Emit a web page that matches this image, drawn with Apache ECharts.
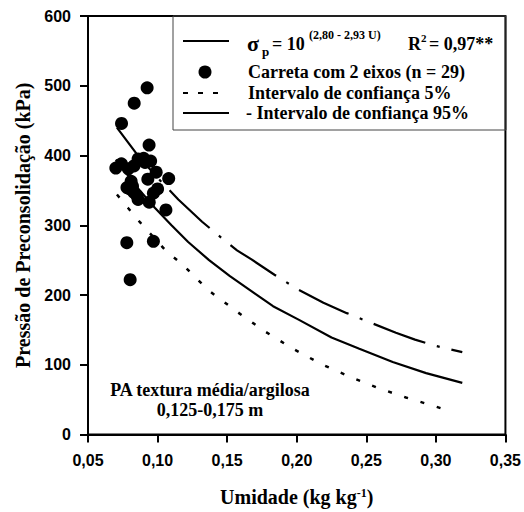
<!DOCTYPE html>
<html>
<head>
<meta charset="utf-8">
<script src="https://cdn.jsdelivr.net/npm/echarts@6/dist/echarts.min.js"></script>
<style>html,body{margin:0;padding:0;background:#fff;}#chart{width:524px;height:512px;}</style>
</head>
<body>
<div id="chart"></div>
<script>
// ---- data ----
const xTicks = [0.05, 0.10, 0.15, 0.20, 0.25, 0.30, 0.35];
const yTicks = [0, 100, 200, 300, 400, 500, 600];

// Carreta com 2 eixos (n = 29): umidade (kg/kg) and pressure (kPa)
const pointsU = [0.0925, 0.0832, 0.0741, 0.0939, 0.0779, 0.0970, 0.0803,
  0.070, 0.074, 0.079, 0.083, 0.086, 0.090, 0.095, 0.099, 0.093, 0.108,
  0.078, 0.082, 0.081, 0.083, 0.086, 0.094, 0.100, 0.097, 0.106, 0.085, 0.080, 0.091];
const pointsP = [497, 475, 446, 415, 275, 277, 222,
  382, 388, 381, 385, 395, 396, 392, 376, 366, 367,
  354, 356, 363, 347, 337, 333, 352, 346, 322, 343, 352, 390];

// fitted curve sigma_p = 10^(2,80 - 2,93 U)
const meanU = [0.070, 0.085, 0.098, 0.110, 0.122, 0.137, 0.152, 0.170, 0.183, 0.202, 0.225, 0.245, 0.269, 0.293, 0.319];
const meanP = [394, 355, 325, 300, 276, 250, 227, 202, 184, 164, 139, 123, 104, 88, 74];

// Intervalo de confiança 5%
const lowU = [0.0708, 0.0791, 0.0875, 0.0970, 0.1066, 0.1173, 0.1268, 0.1364, 0.1471, 0.1571, 0.1770, 0.1972, 0.2176, 0.2379, 0.2581, 0.2785, 0.3000, 0.3107];
const lowP = [344, 324, 304, 283, 262, 245, 226, 207, 191, 176, 148, 123, 101, 83, 67, 53, 40, 33];

// Intervalo de confiança 95%
const upU = [0.0708, 0.0862, 0.1000, 0.1149, 0.1320, 0.1483, 0.1571, 0.1675, 0.1840, 0.2008, 0.2192, 0.2360, 0.2522, 0.2713, 0.2850, 0.3000, 0.3190];
const upP = [440, 399, 368, 337, 305, 278, 264, 251, 229, 208, 189, 174, 161, 146, 136, 127, 118];

const zip = (a, b) => a.map((v, i) => [v, b[i]]);

const serif = '"Liberation Serif", "Times New Roman", serif';
const sans = '"Liberation Sans", Arial, sans-serif';

const chart = echarts.init(document.getElementById('chart'), null, {renderer: 'svg'});

function txt(x, y, text, size, extra) {
  return {
    type: 'text', x: x, y: y, z: 100,
    style: Object.assign({
      text: text, fill: '#000',
      font: 'bold ' + size + 'px ' + serif,
      textAlign: 'left', align: 'left',
      textVerticalAlign: 'middle', verticalAlign: 'middle'
    }, extra || {})
  };
}

const option = {
  animation: false,
  backgroundColor: '#fff',
  grid: {left: 88, right: 18, top: 16, bottom: 75, show: true, borderColor: '#000', borderWidth: 2, backgroundColor: 'transparent'},
  xAxis: {
    type: 'value', min: xTicks[0], max: xTicks[xTicks.length - 1], interval: 0.05,
    name: 'Umidade (kg kg{sup|-1})', nameLocation: 'middle', nameGap: 52,
    nameTextStyle: {
      fontFamily: serif, fontWeight: 'bold', fontSize: 20, color: '#000',
      rich: {sup: {fontFamily: serif, fontWeight: 'bold', fontSize: 12, color: '#000', verticalAlign: 'bottom', padding: [0, 0, 9, 0]}}
    },
    axisLine: {lineStyle: {color: '#000', width: 2}},
    axisTick: {inside: false, length: 8, lineStyle: {color: '#000', width: 2}},
    splitLine: {show: false},
    axisLabel: {
      margin: 18, color: '#000', fontFamily: sans, fontWeight: 700, fontSize: 16,
      formatter: v => v.toFixed(2).replace('.', ',')
    }
  },
  yAxis: {
    type: 'value', min: yTicks[0], max: yTicks[yTicks.length - 1], interval: 100,
    name: 'Pressão de Preconsolidação (kPa)', nameLocation: 'middle', nameGap: 55,
    nameTextStyle: {fontFamily: serif, fontWeight: 'bold', fontSize: 20, color: '#000'},
    axisLine: {lineStyle: {color: '#000', width: 2}},
    axisTick: {inside: false, length: 8, lineStyle: {color: '#000', width: 2}},
    splitLine: {show: false},
    axisLabel: {margin: 17, color: '#000', fontFamily: sans, fontWeight: 700, fontSize: 16}
  },
  series: [
    {
      name: 'σp = 10 (2,80 - 2,93 U)', type: 'line', data: zip(meanU, meanP),
      showSymbol: false, symbol: 'none', z: 2,
      lineStyle: {color: '#000', width: 2.2}
    },
    {
      name: 'Intervalo de confiança 5%', type: 'line', data: zip(lowU, lowP),
      showSymbol: false, symbol: 'none', z: 2,
      lineStyle: {color: '#000', width: 2.5, type: [4, 13]}
    },
    {
      name: '- Intervalo de confiança 95%', type: 'line', data: zip(upU, upP),
      showSymbol: false, symbol: 'none', z: 2,
      lineStyle: {color: '#000', width: 2.2, type: [55, 12, 3, 12]}
    },
    {
      name: 'Carreta com 2 eixos (n = 29)', type: 'scatter', data: zip(pointsU, pointsP),
      symbol: 'circle', symbolSize: 13, z: 5,
      itemStyle: {color: '#000', opacity: 1}
    }
  ],
  graphic: [
    {type: 'rect', z: 99, shape: {x: 173, y: 16, width: 333, height: 114}, style: {fill: 'rgba(0,0,0,0)', stroke: '#444', lineWidth: 1}},
    {type: 'line', z: 100, shape: {x1: 183, y1: 41, x2: 229, y2: 41}, style: {stroke: '#000', lineWidth: 2}},
    txt(247, 43, 'σ', 22),
    txt(262, 51, 'p', 13),
    txt(272, 44, '= 10', 18),
    txt(309, 35, '(2,80 - 2,93 U)', 12),
    txt(408, 44, 'R', 18),
    txt(421, 38, '2', 11),
    txt(429, 44, '= 0,97**', 18),
    {type: 'circle', z: 100, shape: {cx: 205, cy: 72, r: 6.5}, style: {fill: '#000'}},
    txt(248, 72, 'Carreta com 2 eixos (n = 29)', 18),
    {type: 'line', z: 100, shape: {x1: 183, y1: 93, x2: 218, y2: 93}, style: {stroke: '#000', lineWidth: 2, lineDash: [5, 10]}},
    txt(248, 93, 'Intervalo de confiança 5%', 18),
    {type: 'line', z: 100, shape: {x1: 183, y1: 113, x2: 229, y2: 113}, style: {stroke: '#000', lineWidth: 2}},
    txt(246, 113, '- Intervalo de confiança 95%', 18),
    txt(210, 390, 'PA textura média/argilosa', 18, {textAlign: 'center', align: 'center'}),
    txt(210, 410, '0,125-0,175 m', 18, {textAlign: 'center', align: 'center'})
  ]
};
chart.setOption(option);
</script>
</body>
</html>
